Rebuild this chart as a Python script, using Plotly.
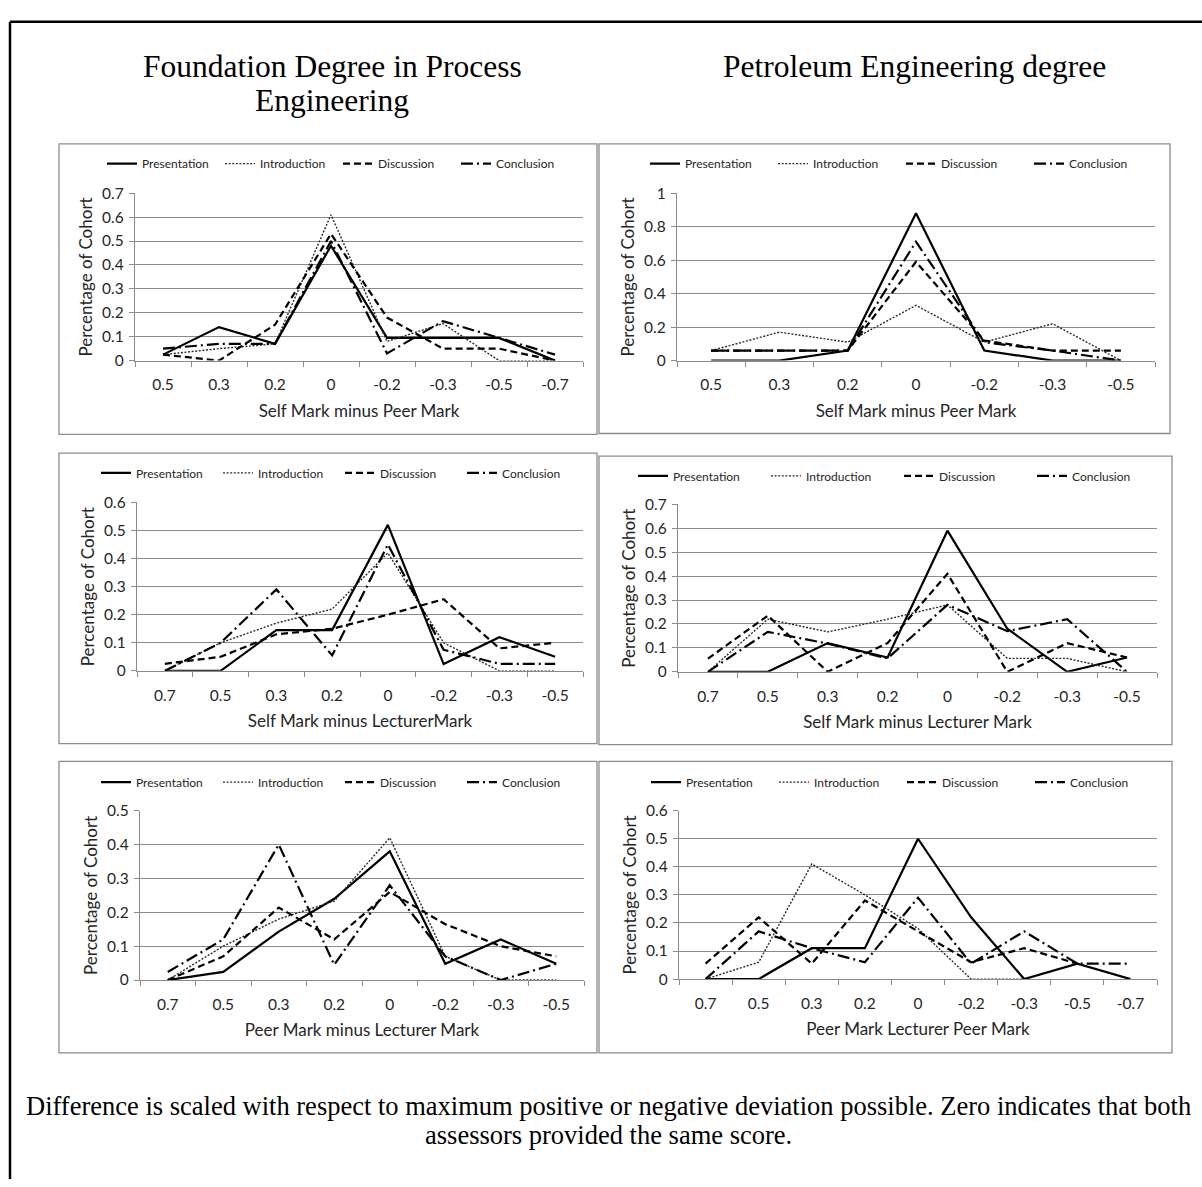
import plotly.graph_objects as go

W, H = 1202, 1187

series_names = ["Presentation", "Introduction", "Discussion", "Conclusion"]

# ---- data ----
# Panel A: Foundation degree, Self Mark minus Peer Mark
a_cats = ["0.5", "0.3", "0.2", "0", "-0.2", "-0.3", "-0.5", "-0.7"]
a_presentation = [0.025, 0.14, 0.07, 0.48, 0.095, 0.095, 0.095, 0.0]
a_introduction = [0.025, 0.05, 0.07, 0.61, 0.08, 0.155, 0.0, 0.0]
a_discussion = [0.025, 0.0, 0.15, 0.53, 0.18, 0.05, 0.05, 0.0]
a_conclusion = [0.05, 0.07, 0.07, 0.50, 0.03, 0.165, 0.095, 0.025]

# Panel B: Petroleum, Self Mark minus Peer Mark
b_cats = ["0.5", "0.3", "0.2", "0", "-0.2", "-0.3", "-0.5"]
b_presentation = [0.0, 0.0, 0.06, 0.88, 0.06, 0.0, 0.0]
b_introduction = [0.06, 0.17, 0.11, 0.33, 0.11, 0.22, 0.0]
b_discussion = [0.06, 0.06, 0.06, 0.59, 0.12, 0.06, 0.06]
b_conclusion = [0.06, 0.06, 0.06, 0.71, 0.11, 0.06, 0.0]

# Panel C: Foundation degree, Self Mark minus Lecturer Mark
c_cats = ["0.7", "0.5", "0.3", "0.2", "0", "-0.2", "-0.3", "-0.5"]
c_presentation = [0.0, 0.0, 0.145, 0.145, 0.52, 0.024, 0.12, 0.05]
c_introduction = [0.0, 0.1, 0.17, 0.22, 0.42, 0.1, 0.0, 0.0]
c_discussion = [0.025, 0.05, 0.13, 0.15, 0.2, 0.255, 0.08, 0.1]
c_conclusion = [0.0, 0.1, 0.29, 0.055, 0.45, 0.075, 0.025, 0.025]

# Panel D: Petroleum, Self Mark minus Lecturer Mark
d_cats = ["0.7", "0.5", "0.3", "0.2", "0", "-0.2", "-0.3", "-0.5"]
d_presentation = [0.0, 0.0, 0.12, 0.06, 0.59, 0.18, 0.0, 0.06]
d_introduction = [0.0, 0.22, 0.167, 0.22, 0.28, 0.056, 0.056, 0.0]
d_discussion = [0.055, 0.235, 0.0, 0.12, 0.41, 0.0, 0.12, 0.06]
d_conclusion = [0.0, 0.167, 0.118, 0.056, 0.28, 0.17, 0.22, 0.0]

# Panel E: Foundation degree, Peer Mark minus Lecturer Mark
e_cats = ["0.7", "0.5", "0.3", "0.2", "0", "-0.2", "-0.3", "-0.5"]
e_presentation = [0.0, 0.024, 0.143, 0.24, 0.38, 0.048, 0.12, 0.048]
e_introduction = [0.0, 0.1, 0.18, 0.233, 0.42, 0.07, 0.0, 0.0]
e_discussion = [0.0, 0.07, 0.214, 0.12, 0.26, 0.165, 0.1, 0.07]
e_conclusion = [0.024, 0.12, 0.40, 0.045, 0.28, 0.07, 0.0, 0.048]

# Panel F: Petroleum, Peer Mark Lecturer Peer Mark
f_cats = ["0.7", "0.5", "0.3", "0.2", "0", "-0.2", "-0.3", "-0.5", "-0.7"]
f_presentation = [0.0, 0.0, 0.11, 0.11, 0.50, 0.22, 0.0, 0.055, 0.0]
f_introduction = [0.0, 0.06, 0.41, 0.30, 0.18, 0.0, 0.0, None, None]
f_discussion = [0.055, 0.22, 0.055, 0.28, 0.17, 0.06, 0.11, 0.055, None]
f_conclusion = [0.0, 0.17, 0.11, 0.06, 0.29, 0.055, 0.17, 0.055, 0.055]

x_titles = ["Self Mark minus Peer Mark", "Self Mark minus Peer Mark",
            "Self Mark minus LecturerMark", "Self Mark minus Lecturer Mark",
            "Peer Mark minus Lecturer Mark", "Peer Mark Lecturer Peer Mark"]
y_title = "Percentage of Cohort"
y_max = [0.7, 1.0, 0.6, 0.7, 0.5, 0.6]
y_step = [0.1, 0.2, 0.1, 0.1, 0.1, 0.1]

panel_cats = [a_cats, b_cats, c_cats, d_cats, e_cats, f_cats]
panel_series = [
    [a_presentation, a_introduction, a_discussion, a_conclusion],
    [b_presentation, b_introduction, b_discussion, b_conclusion],
    [c_presentation, c_introduction, c_discussion, c_conclusion],
    [d_presentation, d_introduction, d_discussion, d_conclusion],
    [e_presentation, e_introduction, e_discussion, e_conclusion],
    [f_presentation, f_introduction, f_discussion, f_conclusion],
]

# ---- layout geometry (pixels) ----
# plot areas: (left, right, top, bottom)
plot_px = [
    (135, 583, 186, 356),
    (677, 1155, 186, 356),
    (137, 583, 500, 671),
    (678, 1157, 502, 672),
    (140, 584, 813, 985),
    (679, 1157, 813, 984),
]
# panel boxes: (x0, y0, x1, y1)
box_px = [
    (59, 136, 597, 431),
    (599, 136, 1170, 430),
    (59, 450, 597, 745),
    (599, 453, 1172, 746),
    (59, 763, 597, 1059),
    (599, 763, 1172, 1059),
]
legend_left_px = [102, 645, 96, 633, 96, 646]
legend_y_px = [156, 156, 470, 473, 784, 784]
legend_entry_px = [73, 83, 77, 88, 77, 83]

styles = {
    "Presentation": dict(color="#000000", width=2.2, dash="solid"),
    "Introduction": dict(color="#2a2a2a", width=1.4, dash="2px,1.6px"),
    "Discussion": dict(color="#000000", width=2.2, dash="7px,4px"),
    "Conclusion": dict(color="#000000", width=2.2, dash="12px,4px,2px,4px"),
}

FONT = "Lato, 'Open Sans', sans-serif"
GRID = "#8a8a8a"
TXT = "#262626"

fig = go.Figure()
layout = dict(
    width=W, height=H, margin=dict(l=0, r=0, t=0, b=0),
    paper_bgcolor="white", plot_bgcolor="white",
    font=dict(family=FONT, color=TXT),
)

for i in range(6):
    k = "" if i == 0 else str(i + 1)
    xa, ya, lg = "x" + k, "y" + k, "legend" + k
    cats = panel_cats[i]
    for name, vals in zip(series_names, panel_series[i]):
        fig.add_trace(go.Scatter(
            x=cats, y=vals, mode="lines", name=name,
            line=styles[name], xaxis=xa, yaxis=ya, legend=lg,
            cliponaxis=False, connectgaps=False, hoverinfo="skip"))
    l, r, t, b = plot_px[i]
    layout["xaxis" + k] = dict(
        domain=[l / W, r / W], anchor=ya, type="category",
        categoryorder="array", categoryarray=cats,
        range=[-0.5, len(cats) - 0.5], tickson="boundaries",
        ticks="outside", ticklen=5, tickcolor=GRID, tickwidth=1.3,
        showline=True, linecolor=GRID, linewidth=1.3, showgrid=False,
        zeroline=False, tickfont=dict(size=15.5, family=FONT, color=TXT),
        ticklabelstandoff=10,
        title=dict(text=x_titles[i], font=dict(size=17, family=FONT, color=TXT),
                   standoff=12),
        fixedrange=True,
    )
    layout["yaxis" + k] = dict(
        domain=[1 - b / H, 1 - t / H], anchor=xa,
        range=[0, y_max[i]], dtick=y_step[i], tick0=0,
        showgrid=True, gridcolor=GRID, gridwidth=1.3,
        showline=True, linecolor=GRID, linewidth=1.3,
        ticks="outside", ticklen=5, tickcolor=GRID, tickwidth=1.3,
        zeroline=False, tickfont=dict(size=15.5, family=FONT, color=TXT),
        ticklabelstandoff=2,
        title=dict(text=y_title, font=dict(size=17, family=FONT, color=TXT),
                   standoff=5),
        fixedrange=True,
    )
    layout[lg] = dict(
        orientation="h", x=legend_left_px[i] / W, xanchor="left",
        y=1 - legend_y_px[i] / H, yanchor="middle",
        font=dict(size=12, family=FONT, color=TXT),
        bgcolor="rgba(0,0,0,0)", itemwidth=30,
        entrywidth=legend_entry_px[i], entrywidthmode="pixels",
    )

shapes = []
for (x0, y0, x1, y1) in box_px:
    shapes.append(dict(type="rect", xref="paper", yref="paper",
                       x0=x0 / W, x1=x1 / W, y0=1 - y1 / H, y1=1 - y0 / H,
                       line=dict(color="#8c8c8c", width=1.3)))
# outer frame (top and left edges visible in the crop)
shapes.append(dict(type="line", xref="paper", yref="paper",
                   x0=10 / W, x1=1.0, y0=1 - 12 / H, y1=1 - 12 / H,
                   line=dict(color="black", width=2.5)))
shapes.append(dict(type="line", xref="paper", yref="paper",
                   x0=10 / W, x1=10 / W, y0=0, y1=1 - 12 / H,
                   line=dict(color="black", width=2.5)))
layout["shapes"] = shapes

SERIF = "'Liberation Serif', 'Times New Roman', serif"
annotations = [
    dict(text="Foundation Degree in Process", x=332 / W, y=1 - 57 / H),
    dict(text="Engineering", x=332 / W, y=1 - 92 / H),
    dict(text="Petroleum Engineering degree", x=914 / W, y=1 - 57 / H),
]
for a in annotations:
    a.update(xref="paper", yref="paper", showarrow=False, xanchor="center",
             yanchor="middle", font=dict(family=SERIF, size=31.5, color="black"))
caps = [
    dict(text="Difference is scaled with respect to maximum positive or negative deviation possible. Zero indicates that both",
         x=608 / W, y=1 - 1113 / H),
    dict(text="assessors provided the same score.", x=608 / W, y=1 - 1142 / H),
]
for a in caps:
    a.update(xref="paper", yref="paper", showarrow=False, xanchor="center",
             yanchor="middle", font=dict(family=SERIF, size=26.5, color="black"))
layout["annotations"] = annotations + caps

fig.update_layout(**layout)
fig.write_html(
    "out.html", config={"displayModeBar": False},
    post_script="document.body.style.margin='0px';document.body.style.overflow='hidden';",
)
